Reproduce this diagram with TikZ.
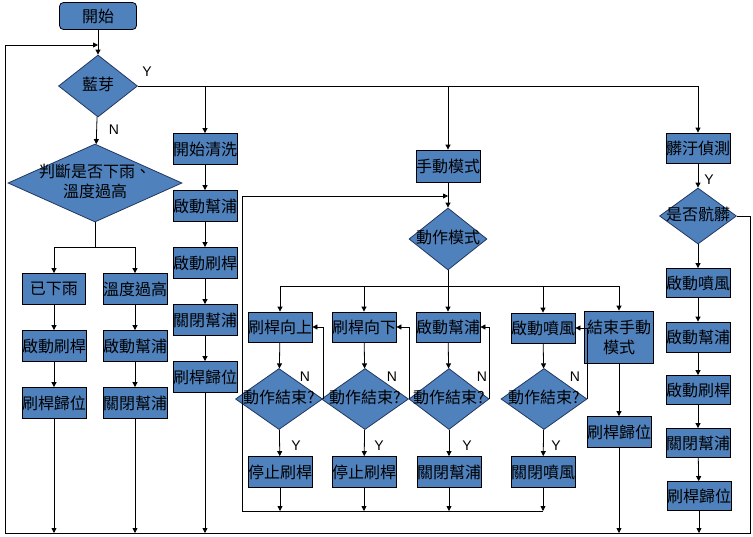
\documentclass[tikz,border=0pt]{standalone}
\usepackage{fontspec}
\setmainfont{Noto Sans CJK TC}
\newfontfamily\latinfont{Liberation Sans}
\usepackage{tikz}
\usetikzlibrary{shapes.geometric,arrows.meta}
\definecolor{boxblue}{RGB}{79,129,189}
\definecolor{edgeblue}{RGB}{35,55,95}
\tikzstyle{box}      = [rectangle, draw=black, line width=0.8pt, fill=boxblue,
                        minimum width=64pt, minimum height=31pt, inner sep=0pt,
                        align=center, font=\fontsize{16}{20}\selectfont]
\tikzstyle{decision} = [diamond, draw=edgeblue, line width=0.8pt, fill=boxblue,
                        inner sep=0pt, font=\fontsize{16}{20}\selectfont]
\tikzstyle{arrow}    = [line width=0.8pt,-{Triangle[length=5pt,width=5pt]}]
\newcommand{\dtext}[1]{\makebox[0pt]{\begin{tabular}{@{}c@{}}#1\end{tabular}}}

\begin{document}
\begin{tikzpicture}[
			x=1pt,y=-1pt,
			lbl/.style={font=\latinfont\fontsize{14}{16}\selectfont},
			line/.style={line width=0.8pt}
		]
		\useasboundingbox (0,0) rectangle (753,536);
		% start and bluetooth
		\node[box,rounded corners=4pt,minimum width=77pt,minimum height=27pt] (start) at (98,16) {開始};
		\node[decision,minimum width=79pt,minimum height=62pt] (bt) at (98,86) {\dtext{藍芽}};
		\node[decision,minimum width=174pt,minimum height=78pt] (rain) at (95,183) {\dtext{判斷是否下雨、\\溫度過高}};
		\coordinate (loop) at (98,45);
		\coordinate (bl) at (5,533);
		\coordinate (br) at (750,533);
		\coordinate (rj) at (95,247);
		% rain / temperature
		\node[box,minimum width=63pt] (rained) at (54,289) {已下雨};
		\node[box] (hot) at (135,289) {溫度過高};
		\node[box] (rw) at (54,346) {啟動刷桿};
		\node[box] (hp) at (135,346) {啟動幫浦};
		\node[box] (rr) at (54,403) {刷桿歸位};
		\node[box] (hc) at (135,403) {關閉幫浦};
		% cleaning
		\node[box] (clean) at (205,149) {開始清洗};
		\node[box] (c1) at (205,206) {啟動幫浦};
		\node[box] (c2) at (205,263) {啟動刷桿};
		\node[box] (c3) at (205,320) {關閉幫浦};
		\node[box] (c4) at (205,377) {刷桿歸位};
		% manual mode
		\node[box,minimum width=63pt,minimum height=32pt] (manual) at (448,166) {手動模式};
		\node[decision,minimum width=78pt,minimum height=62pt] (mode) at (448,239) {\dtext{動作模式}};
		\coordinate (mt) at (448,196);
		\coordinate (mj) at (448,286);
		\coordinate (ib) at (242,511);
		\node[box,minimum width=63pt,minimum height=30pt] (up) at (280,327) {刷桿向上};
		\node[box,minimum height=30pt] (down) at (364,327) {刷桿向下};
		\node[box,minimum width=63pt,minimum height=30pt] (pump) at (448,327) {啟動幫浦};
		\node[box,minimum width=62pt,minimum height=30pt] (fan) at (543,328) {啟動噴風};
		\node[box,minimum width=69pt,minimum height=52pt] (endm) at (619,337) {結束手動\\模式};
		\node[box] (mr) at (619,432) {刷桿歸位};
		\node[decision,minimum width=87pt,minimum height=61pt] (d1) at (279,399) {\dtext{動作結束?}};
		\node[decision,minimum width=87pt,minimum height=61pt] (d2) at (365,399) {\dtext{動作結束?}};
		\node[decision,minimum width=80pt,minimum height=61pt] (d3) at (449,399) {\dtext{動作結束?}};
		\node[decision,minimum width=86pt,minimum height=61pt] (d4) at (544,399) {\dtext{動作結束?}};
		\node[box,minimum width=63pt] (s1) at (280,472) {停止刷桿};
		\node[box] (s2) at (364,472) {停止刷桿};
		\node[box] (s3) at (449,472) {關閉幫浦};
		\node[box,minimum width=62pt] (s4) at (543,472) {關閉噴風};
		% dirt detection
		\node[box,minimum height=30pt] (dirty) at (698,148) {髒汙偵測};
		\node[decision,minimum width=77pt,minimum height=56pt] (isdirty) at (698,216) {\dtext{是否骯髒}};
		\node[box,minimum height=29pt] (f1) at (698,283) {啟動噴風};
		\node[box,minimum height=30pt] (f2) at (698,337) {啟動幫浦};
		\node[box,minimum height=29pt] (f3) at (698,390) {啟動刷桿};
		\node[box,minimum height=29pt] (f4) at (698,443) {關閉幫浦};
		\node[box,minimum height=29pt] (f5) at (699,496) {刷桿歸位};
		% labels
		\node[lbl] (ybt) at (147,72) {Y};
		\node[lbl] (nbt) at (114,130) {N};
		\node[lbl] (ydirty) at (709,180) {Y};
		\foreach \i/\x in {1/305,2/392,3/482,4/575}
			\node[lbl] (n\i) at (\x,377) {N};
		\foreach \i/\x in {1/296,2/379,3/467,4/556}
			\node[lbl] (y\i) at (\x,446) {Y};
		% connectors
		\draw[arrow] (start) -- (bt);
		\draw[arrow] (bt) -- (rain);
		\draw[arrow] (bt.east) -| (dirty);
		\draw[arrow] (bt.east -| clean) -- (clean);
		\draw[arrow] (bt.east -| manual) -- (manual);
		\draw[line] (rain) -- (rj);
		\draw[arrow] (rj) -| (rained);
		\draw[arrow] (rj) -| (hot);
		\foreach \a/\b in {rained/rw,rw/rr,hot/hp,hp/hc,clean/c1,c1/c2,c2/c3,c3/c4,
				manual/mode,up/d1,down/d2,pump/d3,fan/d4,d1/s1,d2/s2,d3/s3,d4/s4,endm/mr,
				dirty/isdirty,isdirty/f1,f1/f2,f2/f3,f3/f4,f4/f5}
			\draw[arrow] (\a) -- (\b);
		\draw[line] (mode) -- (mj);
		\foreach \b in {up,down,pump,fan,endm}
			\draw[arrow] (mj) -| (\b);
		\foreach \d/\b in {d1/up,d2/down,d3/pump,d4/fan}
			\draw[arrow] (\d.east) |- (\b.east);
		\foreach \s in {s1,s2,s3,s4}
			\draw[arrow] (\s) -- (\s |- ib);
		\draw[arrow] (s4 |- ib) -- (ib) |- (mt);
		\foreach \n in {rr,hc,c4,mr,f5}
			\draw[arrow] (\n) -- (\n |- bl);
		\draw[arrow] (isdirty.east) -| (br) -- (bl) |- (loop);
	\end{tikzpicture}
\end{document}
